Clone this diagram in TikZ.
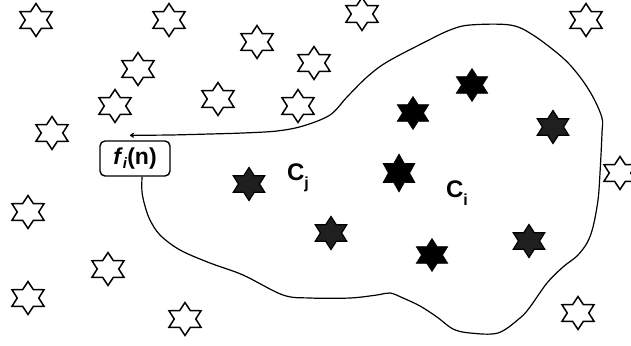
\documentclass[tikz,border=0pt]{standalone}
\usepackage{fontspec}
\setmainfont{Liberation Sans}
\usetikzlibrary{arrows.meta,calc}
\tikzset{
  sixstar/.pic={\path[pic actions] (90:16.5) -- (60:9.6) -- (30:16.5) -- (0:9.6) -- (-30:16.5) -- (-60:9.6) -- (-90:16.5) -- (-120:9.6) -- (-150:16.5) -- (180:9.6) -- (150:16.5) -- (120:9.6) -- cycle;},
  ostar/.style={draw=black, fill=white, line width=1.5pt, line join=miter, xscale=1.12},
  bstar/.style={draw=black, fill=black, line width=0.6pt, xscale=1.1},
  gstar/.style={draw=black, fill=black!88, line width=1.2pt, xscale=1.1},
  boundary/.style={line width=1.2pt, line join=round},
  fbox/.style={draw, rounded corners=5pt, line width=1.4pt, minimum width=70pt, minimum height=35pt, inner sep=0pt, font=\fontsize{23}{24}\selectfont\bfseries},
  clabel/.style={inner sep=0pt, font=\fontsize{24}{24}\selectfont\bfseries}
}
\begin{document}
\begin{tikzpicture}[x=1pt,y=-1pt]
\useasboundingbox (0,0) rectangle (631,345);
% outline stars
\foreach \p in {(36,20),(169,20),(362,14),(586,20),(257,42),(138,69),(314,63),(115,106),(218,99),(298,106),(52,133),(620,173),(28,212),(108,269),(28,298),(185,319),(578,313)}
  \pic[ostar] at \p {sixstar};
% filled stars
\foreach \p in {(472,85),(413,113),(432,255)}
  \pic[bstar] at \p {sixstar};
\pic[bstar, scale=1.15, xscale=0.88] at (399,173) {sixstar};
\foreach \p in {(249,184),(331,233),(553,127),(529,241)}
  \pic[gstar] at \p {sixstar};
% box
\node[fbox] (fb) at (135,158.5) {\textit{f}\raisebox{-4pt}{\fontsize{15}{15}\selectfont\textit{i}}(n)};
\node[clabel] (cj) at (298,178) {C\raisebox{-8pt}{\fontsize{16}{16}\selectfont j}};
\node[clabel] (ci) at (457,193) {C\raisebox{-8pt}{\fontsize{16}{16}\selectfont i}};
\coordinate (outp) at ($(fb.south)+(7,0)$);
\coordinate (inp) at ($(fb.north)+(-5,-5)$);
\draw[boundary, -{To[length=4pt,width=5pt]}] plot[smooth, tension=0.55] coordinates {(outp) (142,192) (145,206) (150,220) (160,235) (180,250) (210,263) (243,275) (283,295) (310,298) (350,298) (377,295) (390,293) (403,298) (420,306) (437,317) (453,329) (470,333) (498,333) (520,318) (530,307) (547,283) (563,267) (577,256) (587,243) (593,227) (598,200) (600,173) (602,133) (602,118) (593,97) (580,77) (563,58) (533,35) (510,25) (470,25) (450,30) (425,42) (387,62) (367,77) (347,97) (330,115) (303,126) (277,131) (243,133) (210,134) (170,135) (inp)};
\end{tikzpicture}
\end{document}
